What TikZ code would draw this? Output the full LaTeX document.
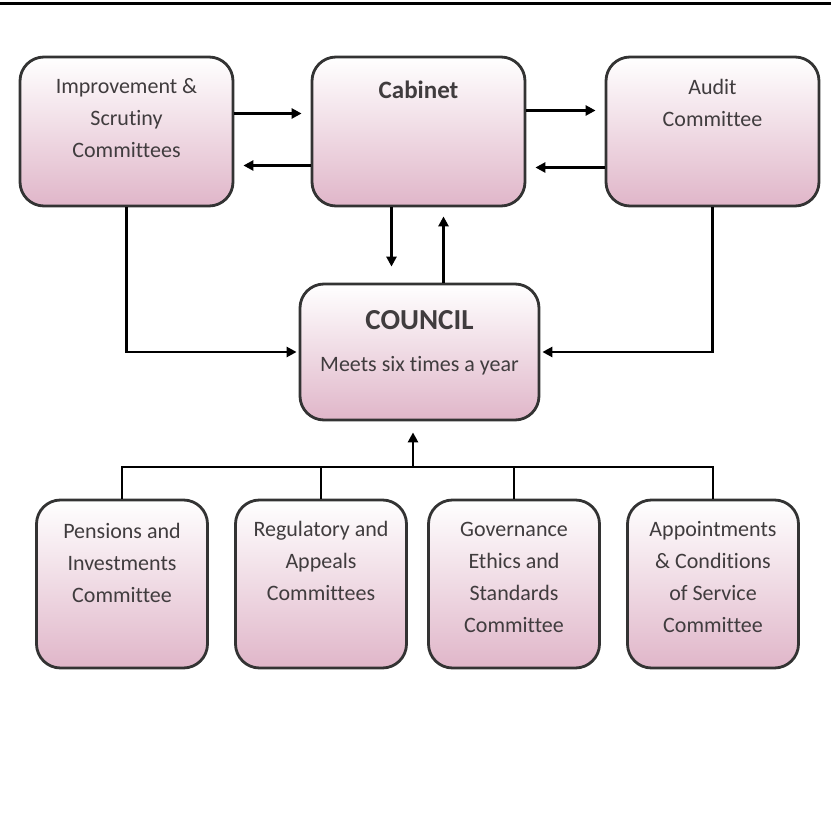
\documentclass[tikz,border=0pt]{standalone}
\usepackage{fontspec}
\setmainfont{Carlito}[Ligatures=NoCommon]
\usetikzlibrary{arrows.meta,positioning}
\definecolor{boxpink}{RGB}{224,182,201}
\definecolor{boxmid}{RGB}{246,232,239}
\definecolor{boxtext}{RGB}{64,60,62}

\begin{document}
\begin{tikzpicture}[x=1pt,y=-1pt,font=\fontsize{22}{32}\selectfont,
    unit/.style={draw=black!80,line width=2.8pt,rounded corners=24pt,
      top color=white,middle color=boxmid,bottom color=boxpink,
      minimum width=213pt,minimum height=149pt},
    subunit/.style={unit,minimum width=171pt,minimum height=168pt},
    caption/.style={text=boxtext,align=center,inner sep=0pt},
    link/.style={line width=2.9pt,black},
    arr/.style={link,-{Triangle[length=10pt,width=10pt]},shorten >=9pt}]
    \useasboundingbox (0,0) rectangle (831,826);
    \draw[line width=3pt] (0,4) -- (831,4);
    % top row
    \node[unit] (imp) at (126.5,131.5) {};
    \node[unit] (cab) at (418.5,131.5) {};
    \node[unit] (aud) at (712.5,131.5) {};
    \node[caption] (impt) at ([yshift=13pt]imp.center) {Improvement \&\\Scrutiny\\Committees};
    \node[caption,font=\fontsize{25}{30}\selectfont\bfseries] (cabt) at ([yshift=42pt]cab.center) {Cabinet};
    \node[caption] (audt) at ([yshift=29pt]aud.center) {Audit\\Committee};
    % council
    \node[unit,minimum width=239pt,minimum height=136pt] (cou) at (419.5,352) {};
    \node[caption,font=\fontsize{29}{34}\selectfont\bfseries] (cout) at ([yshift=32pt]cou.center) {COUNCIL};
    \node[caption] (coum) at ([yshift=-14pt]cou.center) {Meets six times a year};
    % bottom row
    \node[subunit] (pen) at (122,584) {};
    \node[subunit] (reg) at (321,584) {};
    \node[subunit] (gov) at (514,584) {};
    \node[subunit] (app) at (713,584) {};
    \node[caption] (pent) at ([yshift=21pt]pen.center) {Pensions and\\Investments\\Committee};
    \node[caption] (regt) at ([yshift=23pt]reg.center) {Regulatory and\\Appeals\\Committees};
    \node[caption] (govt) at ([yshift=7pt]gov.center) {Governance\\Ethics and\\Standards\\Committee};
    \node[caption] (appt) at ([yshift=7pt]app.center) {Appointments\\\& Conditions\\of Service\\Committee};
    % connectors
    \draw[arr] ([yshift=18pt]imp.east) -- ([yshift=18pt]cab.west);
    \draw[arr] ([yshift=-34pt]cab.west) -- ([yshift=-34pt]imp.east);
    \draw[arr] ([yshift=21pt]cab.east) -- ([yshift=21pt]aud.west);
    \draw[arr] ([yshift=-36pt]aud.west) -- ([yshift=-36pt]cab.east);
    \draw[arr,shorten >=16pt] ([xshift=-27pt]cab.south) -- ([xshift=-27pt]cab.south |- cou.north);
    \draw[arr] ([xshift=24pt]cou.north) -- ([xshift=24pt]cou.north |- cab.south);
    \draw[arr,shorten >=2pt] (imp.south) |- (cou.west);
    \draw[arr,shorten >=2pt] (aud.south) |- (cou.east);
    \coordinate (bus) at (413,467);
    \draw[link] (pen.north) |- (bus) -| (app.north);
    \draw[link] (reg.north) -- (reg.north |- bus);
    \draw[link] (gov.north) -- (gov.north |- bus);
    \draw[arr,shorten >=11pt] (bus) -- (bus |- cou.south);
\end{tikzpicture}
\end{document}
